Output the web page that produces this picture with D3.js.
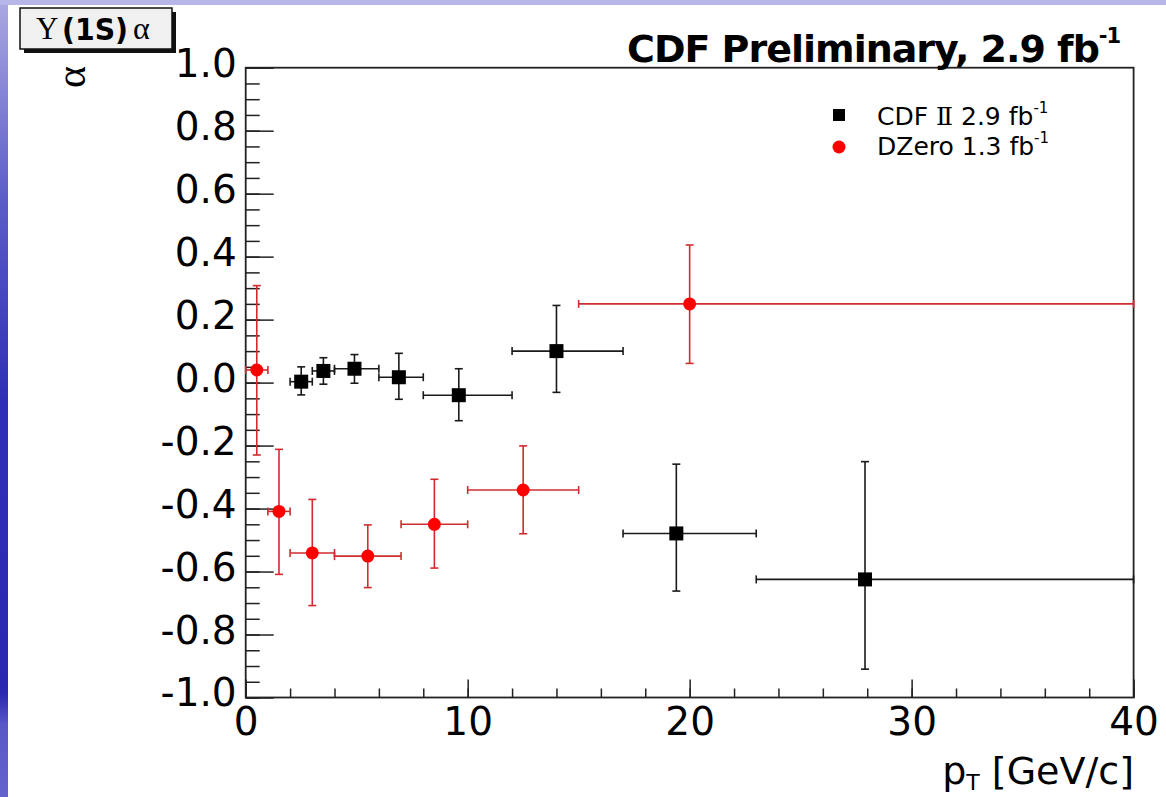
<!DOCTYPE html>
<html>
<head>
<meta charset="utf-8">
<script src="https://cdn.jsdelivr.net/npm/d3@7"></script>
<style>
  html, body { margin: 0; padding: 0; background: #ffffff; }
  svg { display: block; }
</style>
</head>
<body>
<div id="chart"></div>
<script>
// CDF II points (black squares)
const cdfPt  = [2.5, 3.5, 4.9, 6.9, 9.6, 14.0, 19.4, 27.9];
const cdfLo  = [2, 3, 4, 6, 8, 12, 17, 23];
const cdfHi  = [3, 4, 6, 8, 12, 17, 23, 40];
const cdfVal = [0.003, 0.037, 0.044, 0.017, -0.040, 0.100, -0.479, -0.625];
const cdfTop = [0.050, 0.079, 0.089, 0.093, 0.044, 0.245, -0.259, -0.251];
const cdfBot = [-0.039, -0.005, -0.002, -0.053, -0.121, -0.031, -0.662, -0.910];

// DZero points (red circles)
const d0Pt  = [0.5, 1.5, 3.0, 5.5, 8.5, 12.5, 20.0];
const d0Lo  = [0, 1, 2, 4, 7, 10, 15];
const d0Hi  = [1, 2, 4, 7, 10, 15, 40];
const d0Val = [0.040, -0.409, -0.541, -0.551, -0.450, -0.341, 0.250];
const d0Top = [0.308, -0.212, -0.371, -0.452, -0.307, -0.201, 0.437];
const d0Bot = [-0.230, -0.609, -0.708, -0.651, -0.589, -0.480, 0.061];

const xMajor = [0, 10, 20, 30, 40];
const yMajor = [-1.0, -0.8, -0.6, -0.4, -0.2, 0.0, 0.2, 0.4, 0.6, 0.8, 1.0];

const W = 1166, H = 797;
const svg = d3.select("#chart").append("svg")
    .attr("width", W)
    .attr("height", H);

// slide background (blue strips on top and left)
const defs = svg.append("defs");
const grad = defs.append("linearGradient")
    .attr("id", "slide").attr("x1", 0).attr("y1", 0).attr("x2", 0).attr("y2", 1);
[["0", "#a9a9e2"], ["0.25", "#5c5cc8"], ["0.5", "#3030b6"], ["0.87", "#2a28b0"],
 ["0.91", "#5a58c8"], ["1", "#6462cc"]].forEach(s => {
    grad.append("stop").attr("offset", s[0]).attr("stop-color", s[1]);
});
svg.append("rect").attr("x", 0).attr("y", 0).attr("width", 8).attr("height", H)
    .attr("fill", "url(#slide)");
svg.append("rect").attr("x", 0).attr("y", 0).attr("width", W).attr("height", 5)
    .attr("fill", "#b6b6e8");
svg.append("rect").attr("x", 8).attr("y", 5).attr("width", W - 8).attr("height", H - 5)
    .attr("fill", "#ffffff");

const x = d3.scaleLinear().domain([0, 40]).range([245.7, 1133.6]);
const y = d3.scaleLinear().domain([-1, 1]).range([697.5, 67.7]);

const axisFont = "'DejaVu Sans', Verdana, sans-serif";
const fmt = d => d3.format(".1f")(d).replace("\u2212", "-");

// minor ticks
svg.append("g")
    .attr("transform", `translate(${x(0)},0)`)
    .call(d3.axisLeft(y).tickValues(d3.range(-1, 1.001, 0.05)).tickSize(-14).tickSizeOuter(0).tickFormat(""))
    .call(g => g.select(".domain").remove());
svg.append("g")
    .attr("transform", `translate(0,${y(-1)})`)
    .call(d3.axisBottom(x).tickValues(d3.range(0, 40.001, 2)).tickSize(-9).tickSizeOuter(0).tickFormat(""))
    .call(g => g.select(".domain").remove());

// major ticks + labels
const yAxis = svg.append("g")
    .attr("transform", `translate(${x(0)},0)`)
    .call(d3.axisLeft(y).tickValues(yMajor).tickSize(-28).tickSizeOuter(0).tickPadding(9)
        .tickFormat(fmt));
yAxis.select(".domain").remove();
yAxis.selectAll("text")
    .attr("dy", "0.32em")
    .attr("y", -4)
    .style("font-family", axisFont)
    .style("font-size", "39px")
    .attr("fill", "#000");

const xAxis = svg.append("g")
    .attr("transform", `translate(0,${y(-1)})`)
    .call(d3.axisBottom(x).tickValues(xMajor).tickSize(-18).tickSizeOuter(0).tickPadding(0));
xAxis.select(".domain").remove();
xAxis.selectAll("text")
    .attr("y", 37)
    .attr("dy", 0)
    .style("font-family", axisFont)
    .style("font-size", "39px")
    .attr("fill", "#000");

svg.selectAll(".tick line").attr("stroke", "#222").attr("stroke-width", 1.5);

// frame
svg.append("rect")
    .attr("x", x(0)).attr("y", y(1))
    .attr("width", x(40) - x(0)).attr("height", y(-1) - y(1))
    .attr("fill", "none").attr("stroke", "#222").attr("stroke-width", 1.8);

// error bars
function drawSeries(pt, lo, hi, val, top, bot, lineColor, cls) {
    const g = svg.append("g").attr("class", cls)
        .attr("stroke", lineColor).attr("stroke-width", 1.6).attr("fill", "none");
    const cap = 4;
    pt.forEach((p, i) => {
        g.append("line").attr("x1", x(lo[i])).attr("x2", x(hi[i]))
            .attr("y1", y(val[i])).attr("y2", y(val[i]));
        g.append("line").attr("x1", x(p)).attr("x2", x(p))
            .attr("y1", y(top[i])).attr("y2", y(bot[i]));
        [lo[i], hi[i]].forEach(e => {
            g.append("line").attr("x1", x(e)).attr("x2", x(e))
                .attr("y1", y(val[i]) - cap).attr("y2", y(val[i]) + cap);
        });
        [top[i], bot[i]].forEach(e => {
            g.append("line").attr("x1", x(p) - cap).attr("x2", x(p) + cap)
                .attr("y1", y(e)).attr("y2", y(e));
        });
    });
    return g;
}

drawSeries(d0Pt, d0Lo, d0Hi, d0Val, d0Top, d0Bot, "#d02c30", "dzero");
drawSeries(cdfPt, cdfLo, cdfHi, cdfVal, cdfTop, cdfBot, "#1a1a1a", "cdf");

svg.append("g").selectAll("circle")
    .data(d0Pt)
    .enter().append("circle")
    .attr("cx", d => x(d))
    .attr("cy", (d, i) => y(d0Val[i]))
    .attr("r", 6.5)
    .attr("fill", "#ff0000");

svg.append("g").selectAll("rect")
    .data(cdfPt)
    .enter().append("rect")
    .attr("x", d => x(d) - 7)
    .attr("y", (d, i) => y(cdfVal[i]) - 7)
    .attr("width", 14)
    .attr("height", 14)
    .attr("fill", "#000");

// title
const title = svg.append("text")
    .attr("x", 627).attr("y", 62)
    .style("font-family", axisFont)
    .style("font-weight", "bold")
    .style("font-size", "38px")
    .style("letter-spacing", "-1px");
title.append("tspan").text("CDF Preliminary, 2.9 fb");
title.append("tspan").attr("dy", -19).style("font-size", "21px").text("-1");

// legend
const legendFont = "25px " + axisFont;
svg.append("rect").attr("x", 833).attr("y", 109).attr("width", 12).attr("height", 12).attr("fill", "#000");
svg.append("circle").attr("cx", 839).attr("cy", 147).attr("r", 6.5).attr("fill", "#ff0000");
const l1 = svg.append("text").attr("x", 877).attr("y", 125).style("font", legendFont);
l1.append("tspan").text("CDF ");
l1.append("tspan").style("font-family", "'DejaVu Serif', 'Liberation Serif', serif").text("Ⅱ");
l1.append("tspan").text(" 2.9 fb");
l1.append("tspan").attr("dy", -12).style("font-size", "15px").text("-1");
const l2 = svg.append("text").attr("x", 877).attr("y", 155).style("font", legendFont);
l2.append("tspan").text("DZero 1.3 fb");
l2.append("tspan").attr("dy", -12).style("font-size", "15px").text("-1");

// x axis title
const xt = svg.append("text")
    .attr("x", 1134).attr("y", 784)
    .attr("text-anchor", "end")
    .style("font-family", axisFont)
    .style("font-size", "38px");
xt.append("tspan").text("p");
xt.append("tspan").attr("dy", 6).style("font-size", "22px").text("T");
xt.append("tspan").attr("dy", -6).text(" [GeV/c]");

// y axis title (rotated alpha)
svg.append("text")
    .attr("transform", "translate(72,77) rotate(-90)")
    .attr("text-anchor", "middle")
    .attr("dy", "0.3em")
    .style("font-family", "'Liberation Serif', 'DejaVu Serif', serif")
    .style("font-size", "42px")
    .text("α");

// histogram title box with shadow
svg.append("rect").attr("x", 24).attr("y", 12).attr("width", 152).attr("height", 41).attr("fill", "#111");
svg.append("rect").attr("x", 20).attr("y", 8).attr("width", 152).attr("height", 41)
    .attr("fill", "#f0f0f0").attr("stroke", "#111").attr("stroke-width", 1.5);
svg.append("text").attr("x", 36).attr("y", 39)
    .style("font-family", "'Liberation Serif', serif").style("font-size", "31px").text("Υ");
svg.append("text").attr("x", 62).attr("y", 40)
    .style("font-family", axisFont).style("font-weight", "bold").style("font-size", "30px")
    .attr("textLength", 66).attr("lengthAdjust", "spacingAndGlyphs")
    .text("(1S)");
svg.append("text").attr("x", 133).attr("y", 39)
    .style("font-family", "'Liberation Serif', serif").style("font-size", "32px").text("α");
</script>
</body>
</html>
